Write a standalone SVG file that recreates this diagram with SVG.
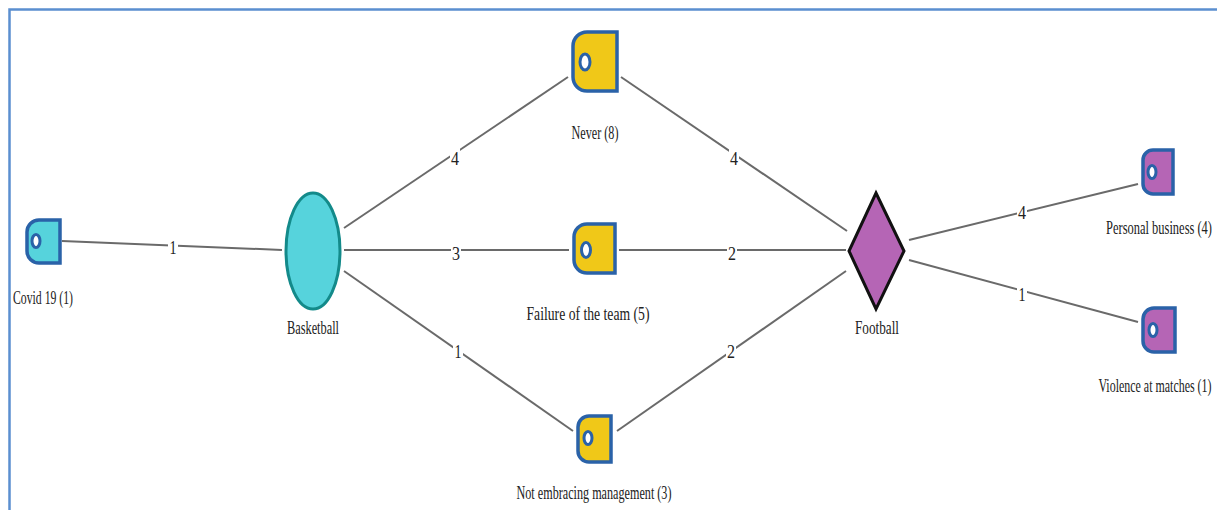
<svg xmlns="http://www.w3.org/2000/svg" width="1217" height="510" viewBox="0 0 1217 510">
<style>
.frame{fill:none;stroke:#5b8fd0;stroke-width:2.5}
.edge{stroke:#6a6a6a;stroke-width:2;fill:none}
.tag{stroke:#2a62a8;stroke-width:3.5}
.hole{fill:#fff;stroke:#2a62a8;stroke-width:3}
.y{fill:#f0c818}
.c{fill:#56d3dc}
.p{fill:#b565b5}
text{font-family:"Liberation Serif","DejaVu Serif","Times New Roman",serif;fill:#222;text-anchor:middle}
.lbl{font-size:19px}
.num{font-size:18px}
.nb{fill:#fff}
</style>
<rect x="0" y="0" width="1217" height="510" fill="#fff"/>
<path class="frame" d="M9.5 510 V9.5 H1217"/>
<g id="connectors">
<line class="edge" x1="62" y1="241" x2="282" y2="250"/>
<line class="edge" x1="344" y1="228" x2="568" y2="77"/>
<line class="edge" x1="344" y1="250" x2="569" y2="250"/>
<line class="edge" x1="344" y1="271" x2="573" y2="431"/>
<line class="edge" x1="621" y1="77" x2="847" y2="231"/>
<line class="edge" x1="619" y1="250" x2="846" y2="250"/>
<line class="edge" x1="617" y1="431" x2="846" y2="271"/>
<line class="edge" x1="909" y1="240" x2="1138" y2="184"/>
<line class="edge" x1="909" y1="260" x2="1138" y2="322"/>
<g>
<rect class="nb" x="168" y="237" width="10" height="20"/><text class="num" x="173" y="254" textLength="7" lengthAdjust="spacingAndGlyphs">1</text>
<rect class="nb" x="450" y="148" width="10" height="20"/><text class="num" x="455" y="165" textLength="8" lengthAdjust="spacingAndGlyphs">4</text>
<rect class="nb" x="451" y="243" width="10" height="20"/><text class="num" x="456" y="260" textLength="8" lengthAdjust="spacingAndGlyphs">3</text>
<rect class="nb" x="453" y="341" width="10" height="20"/><text class="num" x="458" y="358" textLength="7" lengthAdjust="spacingAndGlyphs">1</text>
<rect class="nb" x="729" y="148" width="10" height="20"/><text class="num" x="734" y="165" textLength="8" lengthAdjust="spacingAndGlyphs">4</text>
<rect class="nb" x="727" y="243" width="10" height="20"/><text class="num" x="732" y="260" textLength="8" lengthAdjust="spacingAndGlyphs">2</text>
<rect class="nb" x="726" y="341" width="10" height="20"/><text class="num" x="731" y="358" textLength="8" lengthAdjust="spacingAndGlyphs">2</text>
<rect class="nb" x="1017" y="202" width="10" height="20"/><text class="num" x="1022" y="219" textLength="8" lengthAdjust="spacingAndGlyphs">4</text>
<rect class="nb" x="1017" y="284" width="10" height="20"/><text class="num" x="1022" y="301" textLength="7" lengthAdjust="spacingAndGlyphs">1</text>
</g>
</g>
<g id="covid">
<path class="tag c" d="M60 220 H39 A12 12 0 0 0 27 232 V251 A12 12 0 0 0 39 263 H60 Z"/>
<ellipse class="hole" cx="36" cy="241" rx="4" ry="6.5"/>
<text class="lbl" x="43" y="304" textLength="60" lengthAdjust="spacingAndGlyphs">Covid 19 (1)</text>
</g>
<g id="basketball">
<ellipse cx="313" cy="251" rx="27" ry="58" fill="#56d3dc" stroke="#138a8a" stroke-width="3"/>
<text class="lbl" x="313" y="334" textLength="52" lengthAdjust="spacingAndGlyphs">Basketball</text>
</g>
<g id="never">
<path class="tag y" d="M617 32 H587 A14 14 0 0 0 573 46 V77 A14 14 0 0 0 587 91 H617 Z"/>
<ellipse class="hole" cx="585" cy="62" rx="5" ry="8"/>
<text class="lbl" x="595" y="139" textLength="47" lengthAdjust="spacingAndGlyphs">Never (8)</text>
</g>
<g id="failure">
<path class="tag y" d="M615 224 H587 A13 13 0 0 0 574 237 V260 A13 13 0 0 0 587 273 H615 Z"/>
<ellipse class="hole" cx="586" cy="250" rx="4.5" ry="7.5"/>
<text class="lbl" x="588" y="320" textLength="123" lengthAdjust="spacingAndGlyphs">Failure of the team (5)</text>
</g>
<g id="notembracing">
<path class="tag y" d="M611 416 H589 A11 11 0 0 0 578 427 V451 A11 11 0 0 0 589 462 H611 Z"/>
<ellipse class="hole" cx="588" cy="438" rx="4" ry="6.5"/>
<text class="lbl" x="594" y="499" textLength="155" lengthAdjust="spacingAndGlyphs">Not embracing management (3)</text>
</g>
<g id="football">
<polygon points="876,193 904,251 876,309 849,251" fill="#b565b5" stroke="#111" stroke-width="3" stroke-linejoin="miter"/>
<text class="lbl" x="877" y="334" textLength="44" lengthAdjust="spacingAndGlyphs">Football</text>
</g>
<g id="personal">
<path class="tag p" d="M1173 150 H1153 A10 10 0 0 0 1143 160 V184 A10 10 0 0 0 1153 194 H1173 Z"/>
<ellipse class="hole" cx="1152" cy="172" rx="4" ry="6.5"/>
<g transform="translate(1159,234) scale(0.65,1)"><text class="lbl" x="0" y="0" textLength="163" lengthAdjust="spacingAndGlyphs">Personal business (4)</text></g>
</g>
<g id="violence">
<path class="tag p" d="M1175 308 H1154 A11 11 0 0 0 1143 319 V341 A11 11 0 0 0 1154 352 H1175 Z"/>
<ellipse class="hole" cx="1153" cy="330" rx="4" ry="6.5"/>
<g transform="translate(1155,392) scale(0.65,1)"><text class="lbl" x="0" y="0" textLength="174" lengthAdjust="spacingAndGlyphs">Violence at matches (1)</text></g>
</g>
</svg>
